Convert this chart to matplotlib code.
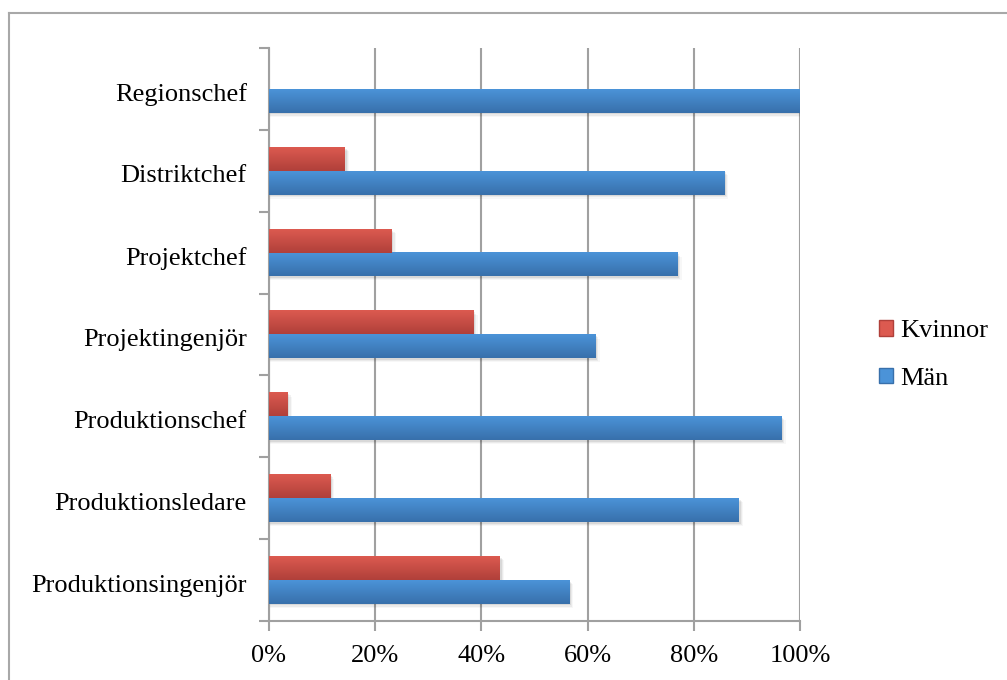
import numpy as np
import matplotlib.pyplot as plt
from matplotlib.lines import Line2D
from matplotlib.patches import Patch
from matplotlib.colors import LinearSegmentedColormap
from matplotlib.transforms import ScaledTranslation

categories = ["Produktionsingenjör", "Produktionsledare", "Produktionschef",
              "Projektingenjör", "Projektchef", "Distriktchef", "Regionschef"]
kvinnor = [43.5, 11.5, 3.5, 38.5, 23.1, 14.3, 0.0]
man = [56.5, 88.5, 96.5, 61.5, 76.9, 85.7, 100.0]
xticks = [0, 20, 40, 60, 80, 100]

red_top, red_bot = "#dc5a50", "#b0403a"
blue_top, blue_bot = "#4b93d8", "#3870ab"
grid_col = "#a0a0a0"

plt.rcParams["font.family"] = ["Liberation Serif", "DejaVu Serif"]

fig = plt.figure(figsize=(10.07, 6.8), dpi=100)
ax = fig.add_axes([269 / 1007, 1 - 621 / 680, (800 - 269) / 1007, (621 - 48) / 680])

# outer frame (only top and left edge visible)
fig.add_artist(Line2D([9 / 1007, 1.0], [1 - 13 / 680, 1 - 13 / 680], color="#a8a8a8", lw=1.5))
fig.add_artist(Line2D([9 / 1007, 9 / 1007], [0, 1 - 13 / 680], color="#a8a8a8", lw=1.5))

y = np.arange(len(categories))
h = 0.29


def gradient_bars(bars, top, bot):
    grad = np.linspace(0, 1, 50).reshape(-1, 1)
    cmap = LinearSegmentedColormap.from_list("g", [bot, top])
    for b in bars:
        x0, y0 = b.get_x(), b.get_y()
        w, hh = b.get_width(), b.get_height()
        if w <= 0:
            continue
        # soft shadow
        for k, a in enumerate([0.07, 0.05, 0.03]):
            ax.barh(y0 + hh / 2 - 0.02 - 0.015 * k, w + 0.3 + 0.25 * k, height=hh,
                    left=x0, color="#000000", alpha=a, zorder=2, linewidth=0)
        ax.imshow(grad, cmap=cmap, aspect="auto", origin="lower",
                  extent=[x0, x0 + w, y0, y0 + hh], zorder=3)
        b.set_visible(False)


bars_m = ax.barh(y - h / 2, man, height=h, color=blue_top, zorder=3)
bars_k = ax.barh(y + h / 2, kvinnor, height=h, color=red_top, zorder=3)
gradient_bars(bars_m, blue_top, blue_bot)
gradient_bars(bars_k, red_top, red_bot)

ax.set_xlim(0, 100)
ax.set_ylim(-0.5, len(categories) - 0.5)
ax.set_xticks(xticks)
ax.set_xticklabels([f"{t}%" for t in xticks], fontsize=19)
ax.set_yticks(y)
ax.set_yticklabels(categories, fontsize=19)
ax.tick_params(axis="y", length=0, pad=16)
ax.tick_params(axis="x", length=7, width=1.5, color=grid_col, pad=10)
ax.set_yticks(np.arange(-0.5, len(categories), 1), minor=True)
ax.tick_params(axis="y", which="minor", length=7, width=1.5, color=grid_col)
ax.grid(axis="x", color=grid_col, lw=1.5, zorder=1)
for s in ["top", "right"]:
    ax.spines[s].set_visible(False)
for s in ["left", "bottom"]:
    ax.spines[s].set_color(grid_col)
    ax.spines[s].set_linewidth(1.5)

# nudge category labels slightly down
shift = ScaledTranslation(0, -3 / 100, fig.dpi_scale_trans)
for lbl in ax.get_yticklabels():
    lbl.set_transform(lbl.get_transform() + shift)

handles = [Patch(facecolor=red_top, edgecolor=red_bot), Patch(facecolor=blue_top, edgecolor=blue_bot)]
fig.legend(handles, ["Kvinnor", "Män"], loc="center left", bbox_to_anchor=(855 / 1007, 1 - 355 / 680),
           frameon=False, fontsize=19, handlelength=0.55, handleheight=0.55, handletextpad=0.25,
           labelspacing=0.95)

fig.savefig("out.png", dpi=100)
